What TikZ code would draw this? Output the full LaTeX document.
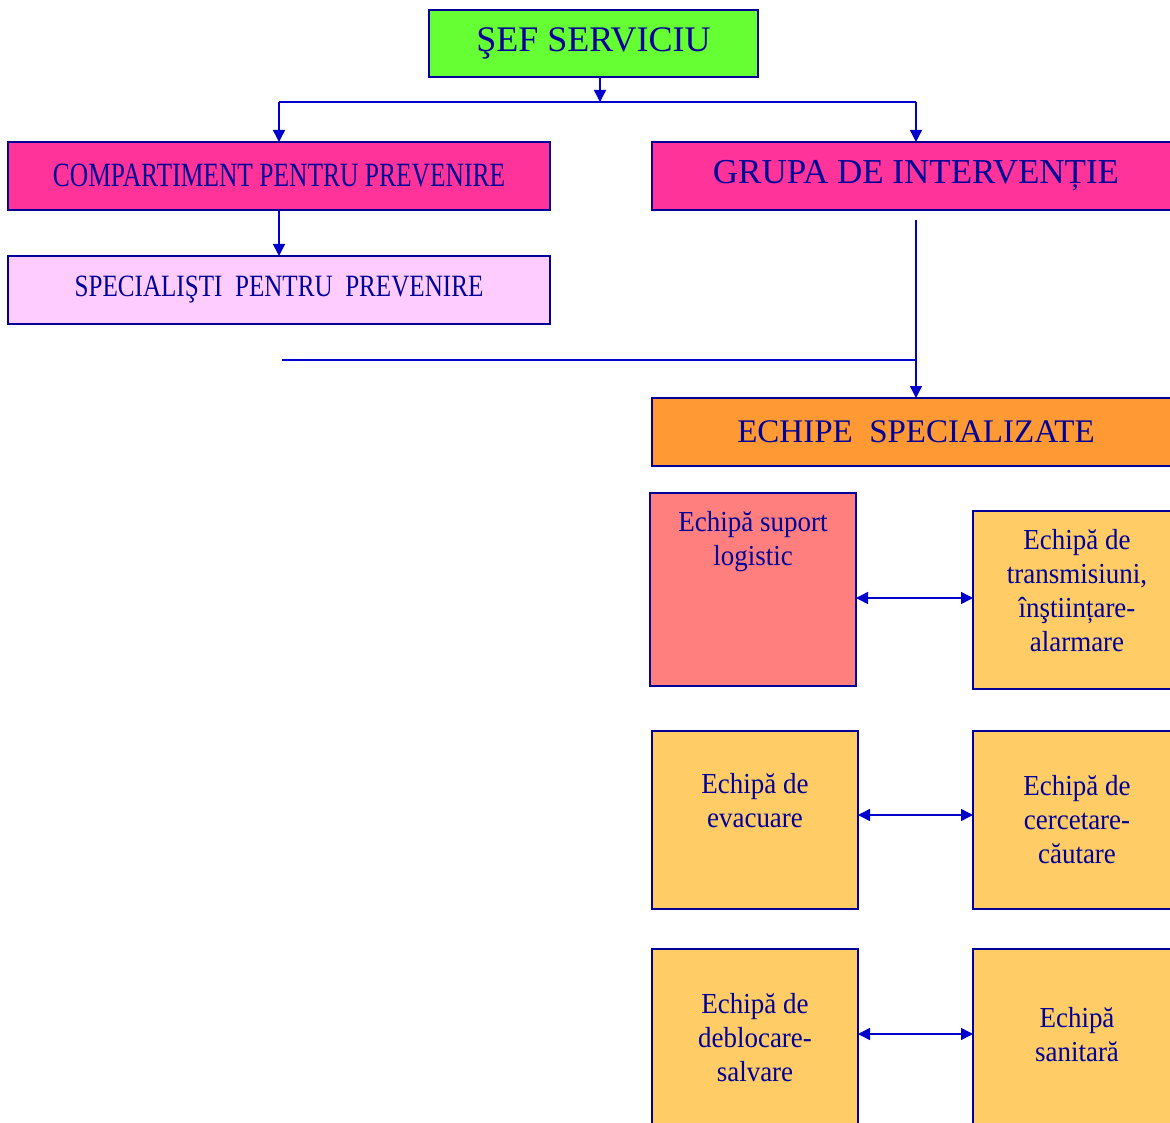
\documentclass[tikz,border=0pt]{standalone}
\usepackage{fontspec}
\usetikzlibrary{arrows.meta}
\setmainfont{Liberation Serif}
\newfontfamily\narrowfont[FakeStretch=0.75]{Liberation Serif}
\newfontfamily\semifont[FakeStretch=0.81]{Liberation Serif}
\newfontfamily\teamfont[FakeStretch=0.93]{Liberation Serif}
\definecolor{inkblue}{HTML}{000099}
\definecolor{lineblue}{HTML}{0000CC}
\definecolor{sefgreen}{HTML}{66FF33}
\definecolor{headpink}{HTML}{FF3399}
\definecolor{lightpink}{HTML}{FFCCFF}
\definecolor{echorange}{HTML}{FF9933}
\definecolor{salmon}{HTML}{FF7F7F}
\definecolor{teamyellow}{HTML}{FFCC66}
\tikzset{
    box/.style={draw=inkblue, line width=1.5pt, text=inkblue, anchor=north west,
        inner sep=0pt, outer sep=0pt},
    teambox/.style={box, fill=teamyellow, align=center,
        font=\teamfont\fontsize{29}{34}\selectfont},
    link/.style={draw=lineblue, line width=1.5pt},
    arr/.style={link, -{Triangle[length=12pt,width=12pt]}},
    dblarr/.style={link, {Triangle[length=12pt,width=12pt]}-{Triangle[length=12pt,width=12pt]}}
}

\begin{document}
\begin{tikzpicture}[x=1pt, y=-1pt]
        \useasboundingbox (0,0) rectangle (1170,1123);

        \node (sef) [box, fill=sefgreen, minimum width=329, minimum height=67,
            font=\fontsize{36}{40}\selectfont] at (429,10) {ŞEF SERVICIU};
        \node (comp) [box, fill=headpink, minimum width=542, minimum height=68,
            font=\narrowfont\fontsize{34}{38}\selectfont] at (8,142) {COMPARTIMENT PENTRU PREVENIRE};
        \node (grupa) [box, fill=headpink, minimum width=528, minimum height=68,
            font=\fontsize{35}{38}\selectfont] at (652,142) {GRUPA DE INTERVENȚIE};
        \node (spec) [box, fill=lightpink, minimum width=542, minimum height=68,
            font=\semifont\fontsize{31}{36}\selectfont] at (8,256) {SPECIALIŞTI~~PENTRU~~PREVENIRE};
        \node (echipe) [box, fill=echorange, minimum width=528, minimum height=68,
            font=\fontsize{33}{36}\selectfont] at (652,398) {ECHIPE~~SPECIALIZATE};

        % echipe specializate
        \node (supl) [teambox, fill=salmon, minimum width=206, minimum height=193] at (650,493) {};
        \node (supltext) [anchor=north, align=center, text=inkblue,
            font=\teamfont\fontsize{29}{34}\selectfont] at ([yshift=-15]supl.north) {Echipă suport\\logistic};
        \node (transm) [teambox, minimum width=208, minimum height=178] at (973,511)
            {Echipă de\\transmisiuni,\\înştiințare-\\alarmare\\[-14pt]};
        \node (evac) [teambox, minimum width=206, minimum height=178] at (652,731)
            {Echipă de\\evacuare\\[6pt]};
        \node (cerc) [teambox, minimum width=208, minimum height=178] at (973,731)
            {Echipă de\\cercetare-\\căutare};
        \node (debl) [teambox, minimum width=206, minimum height=178] at (652,949)
            {Echipă de\\deblocare-\\salvare};
        \node (sanit) [teambox, minimum width=208, minimum height=178] at (973,949)
            {Echipă\\sanitară\\[-26pt]};

        \coordinate (topbus) at (600,102);
        \coordinate (midleft) at (282,360);

        \draw[arr] (sef.south -| topbus) -- (topbus);
        \draw[link] (topbus -| comp.north) -- (topbus -| grupa.north);
        \draw[arr] (topbus -| comp.north) -- (comp.north);
        \draw[arr] (topbus -| grupa.north) -- (grupa.north);
        \draw[arr] (comp) -- (spec);
        \draw[arr] ([yshift=-10]grupa.south) -- (echipe.north);
        \draw[link] (midleft) -- (midleft -| echipe.north);

        \draw[dblarr] ([yshift=2]transm.west -| supl.east) -- ([yshift=2]transm.west);
        \draw[dblarr] ([yshift=5]evac.east) -- ([yshift=5]cerc.west);
        \draw[dblarr] ([yshift=4]debl.east) -- ([yshift=4]sanit.west);
    \end{tikzpicture}
\end{document}
